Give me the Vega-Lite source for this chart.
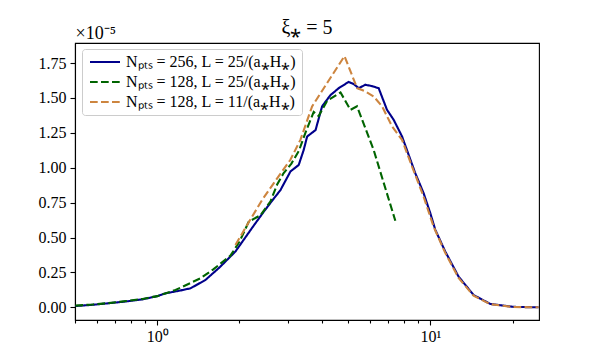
{
  "$schema": "https://vega.github.io/schema/vega-lite/v6.json",
  "width": 464,
  "height": 277,
  "autosize": {"type": "none"},
  "padding": {"left": 75, "top": 43, "right": 60, "bottom": 40},
  "background": "white",
  "title": {"text": "ξ⁎ = 5", "font": "Liberation Serif", "fontSize": 20, "fontWeight": "normal", "color": "black", "anchor": "middle", "offset": -14},
  "config": {
    "view": {"stroke": "black", "strokeWidth": 1.1},
    "axis": {"domainColor": "black", "domainWidth": 1.1, "tickColor": "black", "tickWidth": 1.1, "labelColor": "black", "labelFont": "Liberation Serif", "labelFontSize": 16, "grid": false, "titleColor": "black"},
    "legend": {"orient": "none", "legendX": 7, "legendY": 6, "padding": 5, "fillColor": "white", "strokeColor": "#cccccc", "cornerRadius": 3, "labelFont": "Liberation Serif", "labelFontSize": 16, "labelColor": "black", "labelOffset": 28, "symbolType": "M0,0H6", "symbolSize": 100, "symbolOffset": -5, "symbolStrokeWidth": 2.1, "rowPadding": 4, "labelLimit": 400}
  },
  "data": {"values": [
    {"series": "Nₚₜₛ = 256, L = 25/(a⁎H⁎)", "k": 0.502, "p": 0.09e-6},
    {"series": "Nₚₜₛ = 256, L = 25/(a⁎H⁎)", "k": 0.58, "p": 0.18e-6},
    {"series": "Nₚₜₛ = 256, L = 25/(a⁎H⁎)", "k": 0.663, "p": 0.29e-6},
    {"series": "Nₚₜₛ = 256, L = 25/(a⁎H⁎)", "k": 0.77, "p": 0.42e-6},
    {"series": "Nₚₜₛ = 256, L = 25/(a⁎H⁎)", "k": 0.884, "p": 0.57e-6},
    {"series": "Nₚₜₛ = 256, L = 25/(a⁎H⁎)", "k": 1.0, "p": 0.8e-6},
    {"series": "Nₚₜₛ = 256, L = 25/(a⁎H⁎)", "k": 1.072, "p": 1.0e-6},
    {"series": "Nₚₜₛ = 256, L = 25/(a⁎H⁎)", "k": 1.2, "p": 1.18e-6},
    {"series": "Nₚₜₛ = 256, L = 25/(a⁎H⁎)", "k": 1.324, "p": 1.36e-6},
    {"series": "Nₚₜₛ = 256, L = 25/(a⁎H⁎)", "k": 1.502, "p": 1.96e-6},
    {"series": "Nₚₜₛ = 256, L = 25/(a⁎H⁎)", "k": 1.7, "p": 2.9e-6},
    {"series": "Nₚₜₛ = 256, L = 25/(a⁎H⁎)", "k": 1.934, "p": 4.0e-6},
    {"series": "Nₚₜₛ = 256, L = 25/(a⁎H⁎)", "k": 2.227, "p": 5.7e-6},
    {"series": "Nₚₜₛ = 256, L = 25/(a⁎H⁎)", "k": 2.455, "p": 6.85e-6},
    {"series": "Nₚₜₛ = 256, L = 25/(a⁎H⁎)", "k": 2.65, "p": 7.7e-6},
    {"series": "Nₚₜₛ = 256, L = 25/(a⁎H⁎)", "k": 2.827, "p": 8.4e-6},
    {"series": "Nₚₜₛ = 256, L = 25/(a⁎H⁎)", "k": 3.074, "p": 9.73e-6},
    {"series": "Nₚₜₛ = 256, L = 25/(a⁎H⁎)", "k": 3.297, "p": 10.2e-6},
    {"series": "Nₚₜₛ = 256, L = 25/(a⁎H⁎)", "k": 3.439, "p": 11.28e-6},
    {"series": "Nₚₜₛ = 256, L = 25/(a⁎H⁎)", "k": 3.54, "p": 12.24e-6},
    {"series": "Nₚₜₛ = 256, L = 25/(a⁎H⁎)", "k": 3.8, "p": 12.7e-6},
    {"series": "Nₚₜₛ = 256, L = 25/(a⁎H⁎)", "k": 4.015, "p": 14.4e-6},
    {"series": "Nₚₜₛ = 256, L = 25/(a⁎H⁎)", "k": 4.306, "p": 15.2e-6},
    {"series": "Nₚₜₛ = 256, L = 25/(a⁎H⁎)", "k": 4.618, "p": 15.7e-6},
    {"series": "Nₚₜₛ = 256, L = 25/(a⁎H⁎)", "k": 5.02, "p": 16.15e-6},
    {"series": "Nₚₜₛ = 256, L = 25/(a⁎H⁎)", "k": 5.24, "p": 16.0e-6},
    {"series": "Nₚₜₛ = 256, L = 25/(a⁎H⁎)", "k": 5.47, "p": 15.7e-6},
    {"series": "Nₚₜₛ = 256, L = 25/(a⁎H⁎)", "k": 5.78, "p": 15.95e-6},
    {"series": "Nₚₜₛ = 256, L = 25/(a⁎H⁎)", "k": 6.12, "p": 15.85e-6},
    {"series": "Nₚₜₛ = 256, L = 25/(a⁎H⁎)", "k": 6.47, "p": 15.7e-6},
    {"series": "Nₚₜₛ = 256, L = 25/(a⁎H⁎)", "k": 6.94, "p": 14.15e-6},
    {"series": "Nₚₜₛ = 256, L = 25/(a⁎H⁎)", "k": 7.34, "p": 13.44e-6},
    {"series": "Nₚₜₛ = 256, L = 25/(a⁎H⁎)", "k": 7.88, "p": 12.24e-6},
    {"series": "Nₚₜₛ = 256, L = 25/(a⁎H⁎)", "k": 8.33, "p": 10.93e-6},
    {"series": "Nₚₜₛ = 256, L = 25/(a⁎H⁎)", "k": 8.81, "p": 9.61e-6},
    {"series": "Nₚₜₛ = 256, L = 25/(a⁎H⁎)", "k": 9.45, "p": 8.18e-6},
    {"series": "Nₚₜₛ = 256, L = 25/(a⁎H⁎)", "k": 10.0, "p": 6.74e-6},
    {"series": "Nₚₜₛ = 256, L = 25/(a⁎H⁎)", "k": 10.43, "p": 5.55e-6},
    {"series": "Nₚₜₛ = 256, L = 25/(a⁎H⁎)", "k": 11.34, "p": 4.0e-6},
    {"series": "Nₚₜₛ = 256, L = 25/(a⁎H⁎)", "k": 12.69, "p": 2.2e-6},
    {"series": "Nₚₜₛ = 256, L = 25/(a⁎H⁎)", "k": 14.4, "p": 0.88e-6},
    {"series": "Nₚₜₛ = 256, L = 25/(a⁎H⁎)", "k": 16.58, "p": 0.24e-6},
    {"series": "Nₚₜₛ = 256, L = 25/(a⁎H⁎)", "k": 20.17, "p": 0.03e-6},
    {"series": "Nₚₜₛ = 256, L = 25/(a⁎H⁎)", "k": 24.91, "p": 0.0},
    {"series": "Nₚₜₛ = 128, L = 25/(a⁎H⁎)", "k": 0.502, "p": 0.12e-6},
    {"series": "Nₚₜₛ = 128, L = 25/(a⁎H⁎)", "k": 0.58, "p": 0.2e-6},
    {"series": "Nₚₜₛ = 128, L = 25/(a⁎H⁎)", "k": 0.663, "p": 0.3e-6},
    {"series": "Nₚₜₛ = 128, L = 25/(a⁎H⁎)", "k": 0.77, "p": 0.45e-6},
    {"series": "Nₚₜₛ = 128, L = 25/(a⁎H⁎)", "k": 0.884, "p": 0.6e-6},
    {"series": "Nₚₜₛ = 128, L = 25/(a⁎H⁎)", "k": 1.0, "p": 0.8e-6},
    {"series": "Nₚₜₛ = 128, L = 25/(a⁎H⁎)", "k": 1.167, "p": 1.24e-6},
    {"series": "Nₚₜₛ = 128, L = 25/(a⁎H⁎)", "k": 1.44, "p": 2.08e-6},
    {"series": "Nₚₜₛ = 128, L = 25/(a⁎H⁎)", "k": 1.6, "p": 2.7e-6},
    {"series": "Nₚₜₛ = 128, L = 25/(a⁎H⁎)", "k": 1.854, "p": 3.7e-6},
    {"series": "Nₚₜₛ = 128, L = 25/(a⁎H⁎)", "k": 2.0, "p": 4.7e-6},
    {"series": "Nₚₜₛ = 128, L = 25/(a⁎H⁎)", "k": 2.165, "p": 6.14e-6},
    {"series": "Nₚₜₛ = 128, L = 25/(a⁎H⁎)", "k": 2.388, "p": 6.6e-6},
    {"series": "Nₚₜₛ = 128, L = 25/(a⁎H⁎)", "k": 2.6, "p": 7.6e-6},
    {"series": "Nₚₜₛ = 128, L = 25/(a⁎H⁎)", "k": 2.749, "p": 8.8e-6},
    {"series": "Nₚₜₛ = 128, L = 25/(a⁎H⁎)", "k": 2.9, "p": 9.6e-6},
    {"series": "Nₚₜₛ = 128, L = 25/(a⁎H⁎)", "k": 3.1, "p": 10.3e-6},
    {"series": "Nₚₜₛ = 128, L = 25/(a⁎H⁎)", "k": 3.3, "p": 11.2e-6},
    {"series": "Nₚₜₛ = 128, L = 25/(a⁎H⁎)", "k": 3.488, "p": 12.5e-6},
    {"series": "Nₚₜₛ = 128, L = 25/(a⁎H⁎)", "k": 3.741, "p": 14.0e-6},
    {"series": "Nₚₜₛ = 128, L = 25/(a⁎H⁎)", "k": 3.9, "p": 13.7e-6},
    {"series": "Nₚₜₛ = 128, L = 25/(a⁎H⁎)", "k": 4.19, "p": 14.8e-6},
    {"series": "Nₚₜₛ = 128, L = 25/(a⁎H⁎)", "k": 4.69, "p": 15.4e-6},
    {"series": "Nₚₜₛ = 128, L = 25/(a⁎H⁎)", "k": 5.1, "p": 14.15e-6},
    {"series": "Nₚₜₛ = 128, L = 25/(a⁎H⁎)", "k": 5.39, "p": 14.4e-6},
    {"series": "Nₚₜₛ = 128, L = 25/(a⁎H⁎)", "k": 6.2, "p": 11.28e-6},
    {"series": "Nₚₜₛ = 128, L = 25/(a⁎H⁎)", "k": 7.445, "p": 6.2e-6},
    {"series": "Nₚₜₛ = 128, L = 11/(a⁎H⁎)", "k": 1.934, "p": 4.47e-6},
    {"series": "Nₚₜₛ = 128, L = 11/(a⁎H⁎)", "k": 2.134, "p": 5.9e-6},
    {"series": "Nₚₜₛ = 128, L = 11/(a⁎H⁎)", "k": 2.423, "p": 7.7e-6},
    {"series": "Nₚₜₛ = 128, L = 11/(a⁎H⁎)", "k": 2.786, "p": 9.4e-6},
    {"series": "Nₚₜₛ = 128, L = 11/(a⁎H⁎)", "k": 3.074, "p": 10.57e-6},
    {"series": "Nₚₜₛ = 128, L = 11/(a⁎H⁎)", "k": 3.344, "p": 12.0e-6},
    {"series": "Nₚₜₛ = 128, L = 11/(a⁎H⁎)", "k": 3.691, "p": 14.4e-6},
    {"series": "Nₚₜₛ = 128, L = 11/(a⁎H⁎)", "k": 4.188, "p": 16.07e-6},
    {"series": "Nₚₜₛ = 128, L = 11/(a⁎H⁎)", "k": 4.85, "p": 18.0e-6},
    {"series": "Nₚₜₛ = 128, L = 11/(a⁎H⁎)", "k": 5.393, "p": 15.71e-6},
    {"series": "Nₚₜₛ = 128, L = 11/(a⁎H⁎)", "k": 5.783, "p": 15.47e-6},
    {"series": "Nₚₜₛ = 128, L = 11/(a⁎H⁎)", "k": 6.202, "p": 15.11e-6},
    {"series": "Nₚₜₛ = 128, L = 11/(a⁎H⁎)", "k": 6.658, "p": 14.4e-6},
    {"series": "Nₚₜₛ = 128, L = 11/(a⁎H⁎)", "k": 7.244, "p": 12.96e-6},
    {"series": "Nₚₜₛ = 128, L = 11/(a⁎H⁎)", "k": 7.88, "p": 12.0e-6},
    {"series": "Nₚₜₛ = 128, L = 11/(a⁎H⁎)", "k": 8.57, "p": 10.09e-6},
    {"series": "Nₚₜₛ = 128, L = 11/(a⁎H⁎)", "k": 9.45, "p": 7.93e-6},
    {"series": "Nₚₜₛ = 128, L = 11/(a⁎H⁎)", "k": 10.28, "p": 5.78e-6},
    {"series": "Nₚₜₛ = 128, L = 11/(a⁎H⁎)", "k": 11.34, "p": 3.9e-6},
    {"series": "Nₚₜₛ = 128, L = 11/(a⁎H⁎)", "k": 12.69, "p": 2.1e-6},
    {"series": "Nₚₜₛ = 128, L = 11/(a⁎H⁎)", "k": 14.4, "p": 0.83e-6},
    {"series": "Nₚₜₛ = 128, L = 11/(a⁎H⁎)", "k": 16.58, "p": 0.22e-6},
    {"series": "Nₚₜₛ = 128, L = 11/(a⁎H⁎)", "k": 20.17, "p": 0.02e-6},
    {"series": "Nₚₜₛ = 128, L = 11/(a⁎H⁎)", "k": 24.91, "p": 0.0}
  ]},
  "encoding": {
    "x": {"field": "k", "type": "quantitative",
      "scale": {"type": "log", "domain": [0.5, 25], "nice": false},
      "axis": {"title": null, "values": [0.5, 0.6, 0.7, 0.8, 0.9, 1, 2, 3, 4, 5, 6, 7, 8, 9, 10, 20],
        "labelExpr": "datum.value == 1 ? '10⁰' : (datum.value == 10 ? '10¹' : '')",
        "tickSize": {"condition": {"test": "datum.value == 1 || datum.value == 10", "value": 5}, "value": 3},
        "labelPadding": 3, "labelFlush": false, "labelOverlap": false}},
    "y": {"field": "p", "type": "quantitative",
      "scale": {"domain": [-0.91e-6, 18.94e-6], "nice": false, "zero": false},
      "axis": {"title": "×10⁻⁵", "titleAngle": 0, "titleAlign": "left", "titleBaseline": "alphabetic", "titleX": 0, "titleY": -5,
        "titleFont": "Liberation Serif", "titleFontSize": 18, "titleFontWeight": "normal",
        "values": [0, 2.5e-6, 5e-6, 7.5e-6, 10e-6, 12.5e-6, 15e-6, 17.5e-6],
        "labelExpr": "format(datum.value * 100000, '.2f')", "tickSize": 5, "labelPadding": 4}},
    "color": {"field": "series", "type": "nominal", "title": null,
      "scale": {"domain": ["Nₚₜₛ = 256, L = 25/(a⁎H⁎)", "Nₚₜₛ = 128, L = 25/(a⁎H⁎)", "Nₚₜₛ = 128, L = 11/(a⁎H⁎)"], "range": ["#00008b", "#006400", "#cd853f"]}},
    "strokeDash": {"field": "series", "type": "nominal", "title": null,
      "scale": {"domain": ["Nₚₜₛ = 256, L = 25/(a⁎H⁎)", "Nₚₜₛ = 128, L = 25/(a⁎H⁎)", "Nₚₜₛ = 128, L = 11/(a⁎H⁎)"], "range": [[1, 0], [7.7, 3.3], [7.7, 3.3]]}}
  },
  "layer": [
    {"transform": [{"filter": {"field": "series", "equal": "Nₚₜₛ = 256, L = 25/(a⁎H⁎)"}}], "mark": {"type": "line", "strokeWidth": 2.1}},
    {"transform": [{"filter": {"field": "series", "equal": "Nₚₜₛ = 128, L = 25/(a⁎H⁎)"}}], "mark": {"type": "line", "strokeWidth": 2.1}},
    {"transform": [{"filter": {"field": "series", "equal": "Nₚₜₛ = 128, L = 11/(a⁎H⁎)"}}], "mark": {"type": "line", "strokeWidth": 2.1}}
  ]
}
